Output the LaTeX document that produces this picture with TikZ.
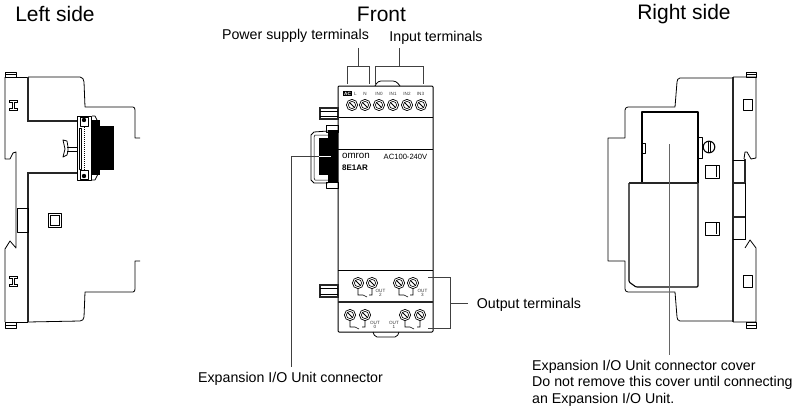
\documentclass[tikz,border=0pt]{standalone}
\usepackage{fontspec}
\setmainfont{Liberation Sans}
\tikzset{
	body/.style={line width=0.8pt, line join=round},
	heavy/.style={line width=1.3pt, black!85},
	leader/.style={line width=0.8pt, black!75},
	caption/.style={inner sep=0pt, font=\fontsize{14.2}{16.5}\selectfont},
	heading/.style={inner sep=0pt, font=\fontsize{21}{23}\selectfont},
	tiny/.style={inner sep=0pt, font=\fontsize{4.6}{5}\selectfont, black!80}
}
\newcommand{\termscrew}[2]{
	\draw[line width=0.7pt] (#1,#2) circle (5.6);
	\draw[line width=0.6pt] (#1,#2) circle (3.6);
	\draw[line width=0.9pt] (#1-2.6,#2-2.6) -- (#1+2.6,#2+2.6);
}
\newcommand{\relaymark}[3]{
	\draw[line width=0.6pt] (#1,#3+5) -- (#1,#3+11) -- (#1+5,#3+11) -- (#1+9,#3+13) (#2,#3+5) -- (#2,#3+11) -- (#2-3,#3+11);
}
\newcommand{\railmark}[2]{
	\draw[line width=0.6pt] (#1-4,#2-5) -- (#1+4,#2-5) -- (#1+4,#2-3) -- (#1+1,#2-3) -- (#1+1,#2+3) -- (#1+4,#2+3) -- (#1+4,#2+5) -- (#1-4,#2+5) -- (#1-4,#2+3) -- (#1-1,#2+3) -- (#1-1,#2-3) -- (#1-4,#2-3) -- cycle;
}
\begin{document}
\begin{tikzpicture}[x=1pt,y=-1pt]
	\useasboundingbox (0,0) rectangle (808,412);

	% left side
	\node[heading] (lefttitle) at (55,14){Left side};
	\draw[body] (28,77) -- (80,77) to[out=0,in=90] (84,82) -- (85,107) -- (133,107) to[out=0,in=90] (135,110) -- (135,138) -- (140,138);
	\draw[body] (140,261) -- (135,261) -- (135,289) to[out=-90,in=0] (133,292) -- (85,292) -- (84,317) to[out=-90,in=0] (80,321) -- (28,322);
	\draw[body] (5,77) -- (28,77);
	\draw[body] (5,72) rectangle (16,77);
	\draw[body] (5,74.5) -- (16,74.5);
	\draw[body] (5,77) -- (5,159) -- (10,159) -- (13,153) -- (16,152) -- (16,248) -- (10,241) -- (5,249) -- (5,322);
	\draw[body] (5,322) rectangle (16,328);
	\draw[body] (5,325) -- (16,325);
	\draw[body] (5,322) -- (28,322);
	\draw[heavy] (28,77) -- (28,121) -- (77,121);
	\draw[heavy] (77,173) -- (28,173) -- (28,322);
	\draw[body] (17,208) rectangle (28,232);
	\draw[body] (48,213) rectangle (61,227);
	\draw[line width=0.5pt] (50,215) rectangle (59,225);
	\railmark{13.5}{105}
	\railmark{13.5}{281}
	\draw[body, line width=1pt] (77,116) rectangle (91,180);
	\draw[densely dotted, line width=1pt] (84,127) -- (84,170);
	\draw[body] (79,128) rectangle (81,169);
	\draw[body] (80,117) rectangle (88,126);
	\draw[body] (80,170) rectangle (88,179);
	\fill (84,120) circle (2.2) (84,176) circle (2.2);
	\draw[body] (92,116) -- (95,116) -- (98,122) (92,180) -- (95,180) -- (98,174);
	\fill (92,120) rectangle (100,175);
	\fill (100,126) rectangle (114,170);
	\draw[body] (77,147) -- (67,147) (77,151) -- (67,151);
	\draw[body] (63,140) -- (67,141) -- (68,147) -- (68,151) -- (67,155) -- (63,157) -- (65,149) -- cycle;

	% front
	\node[heading] (fronttitle) at (381.5,14){Front};
	\node[caption] (powerlabel) at (295.5,36){Power supply terminals};
	\node[caption] (inputlabel) at (436,38){Input terminals};
	\coordinate (powertop) at (358,48);
	\coordinate (powerstem) at (358,66);
	\coordinate (inputtop) at (399,48);
	\coordinate (inputstem) at (399,66);
	\draw[leader] (powertop) -- (powerstem);
	\draw[leader] (347,84) -- (347,66) -- (369,66) -- (369,84);
	\draw[leader] (inputtop) -- (inputstem);
	\draw[leader] (375,84) -- (375,66) -- (423,66) -- (423,84);
	\draw[body, line width=1pt, rounded corners=1pt] (338,332) -- (338,86) -- (433,86) -- (433,332) -- cycle;
	\draw[body] (338,117) -- (433,117);
	\draw[body] (338,149) -- (433,149);
	\draw[body] (338,270) -- (433,270);
	\draw[heavy, line width=1.2pt] (338,302) -- (433,302);
	\draw[body, rounded corners=3pt] (375,86) -- (378,81) -- (396,81) -- (400,86);
	\draw[body, rounded corners=2pt] (373,332) -- (375,337) -- (397,337) -- (399,332);
	\fill (343,91) rectangle (352,96);
	\node[tiny, white] (acmark) at (347.5,93.5){\textbf{AC}};
	\node[tiny] (termL) at (355.5,93.5){L};
	\node[tiny] (termN) at (365,93.5){N};
	\node[tiny] (termA) at (379,93.5){IN0};
	\node[tiny] (termB) at (393,93.5){IN1};
	\node[tiny] (termC) at (407,93.5){IN2};
	\node[tiny] (termD) at (420.5,93.5){IN3};
	\termscrew{352}{105}
	\termscrew{365}{105}
	\termscrew{379}{105}
	\termscrew{393}{105}
	\termscrew{407}{105}
	\termscrew{421}{105}
	\node[inner sep=0pt, font=\fontsize{9.8}{10}\selectfont] (omronmark) at (356,156){omron};
	\node[inner sep=0pt, font=\fontsize{8}{9}\selectfont\bfseries] (modelmark) at (355,168){8E1AR};
	\node[inner sep=0pt, font=\fontsize{7.6}{9}\selectfont] (ratingmark) at (405.5,157){AC100-240V};
	\draw[heavy] (320,108) rectangle (338,119);
	\draw[body] (320,111) -- (338,111) (320,116) -- (338,116);
	\draw[heavy] (320,285) rectangle (338,297);
	\draw[body] (320,288) -- (338,288) (320,294) -- (338,294);
	\draw[body] (326,125) rectangle (338,132);
	\draw[body] (326,182) rectangle (338,188);
	\draw[body, line width=0.8pt] (328,131) -- (314,132) -- (311,135) -- (311,180) -- (314,183) -- (328,183);
	\draw[line width=0.5pt] (328,135) -- (315,135) -- (314,137) -- (314,178) -- (315,180) -- (328,180);
	\fill (319,138) rectangle (338,175);
	\fill (328,130) rectangle (338,182);
	\termscrew{358}{283}
	\termscrew{372}{283}
	\termscrew{399}{283}
	\termscrew{413}{283}
	\termscrew{350}{315}
	\termscrew{365}{315}
	\termscrew{405}{315}
	\termscrew{420}{315}
	\relaymark{358}{372}{284}
	\relaymark{399}{413}{284}
	\relaymark{350}{365}{316}
	\relaymark{405}{420}{316}
	\node[tiny, align=center] (outtwo) at (380.5,293){OUT\\[-1pt]2};
	\node[tiny, align=center] (outthree) at (422.5,293){OUT\\[-1pt]3};
	\node[tiny, align=center] (outzero) at (375,325){OUT\\[-1pt]0};
	\node[tiny, align=center] (outone) at (394,325){OUT\\[-1pt]1};
	\node[caption] (outlabel) at (529,305){Output terminals};
	\coordinate (outstem) at (450,303);
	\coordinate (outend) at (468,303);
	\draw[leader] (428,277) -- (450,277) -- (450,328) -- (428,328);
	\draw[leader] (outstem) -- (outend);
	\node[caption] (connlabel) at (290.5,379){Expansion I/O Unit connector};
	\coordinate (connend) at (331,156);
	\coordinate (conntail) at (291,367);
	\draw[leader] (connend) -- (291,156) -- (conntail);
	\draw[white, line width=0.8pt] (319,156) -- (connend);

	% right side
	\node[heading] (righttitle) at (684,14){Right side};
	\draw[body] (733,78) -- (680,78) to[out=180,in=90] (677,82) -- (675,107) -- (628,107) to[out=180,in=90] (625,110) -- (625,138) -- (608,138) -- (608,261) -- (625,261) -- (625,289) to[out=-90,in=180] (628,292) -- (675,292) -- (677,317) to[out=-90,in=180] (680,321) -- (733,321);
	\draw[heavy, line width=1.1pt] (733,77) -- (733,322);
	\draw[body] (746,72) rectangle (756,77);
	\draw[body] (746,74.5) -- (756,74.5);
	\draw[body] (746,322) rectangle (756,328);
	\draw[body] (746,325) -- (756,325);
	\draw[body] (733,77) -- (756,77) -- (756,158) -- (751,159) -- (747,152) -- (745,152) -- (744,159);
	\draw[body] (745,159) -- (745,240);
	\draw[body] (745,248) -- (750,240) -- (756,248) -- (756,322) -- (733,322);
	\draw[heavy] (745,159) -- (745,183);
	\draw[body] (733,160) -- (745,160);
	\draw[heavy] (733,183) -- (745,183);
	\draw[heavy] (733,217) -- (745,217);
	\draw[body] (733,239) -- (745,239);
	\draw[body] (743,99) rectangle (752,110);
	\draw[body] (743,275) rectangle (752,287);
	\draw[body, line width=1.1pt] (642,183) -- (642,112) -- (698,112) -- (698,183);
	\draw[body, line width=1.1pt, rounded corners=1pt] (629,183) -- (629,282) -- (636,287) -- (698,287) -- (698,183);
	\draw[heavy] (629,183) -- (698,183);
	\draw[body] (642,143) rectangle (645,153);
	\draw[body] (698,137) rectangle (702,158);
	\draw[body, line width=1.1pt] (709,147) circle (5.8);
	\draw[body] (708,141) -- (708,153) (710,141) -- (710,153);
	\draw[body] (705,165) rectangle (719,178);
	\draw[body] (705,222) rectangle (719,235);
	\draw[line width=0.5pt] (716,166) -- (716,177) (716,223) -- (716,234);
	\node[caption, anchor=west, align=left] (coverlabel) at (532,383){Expansion I/O Unit connector cover\\Do not remove this cover until connecting\\an Expansion I/O Unit.};
	\coordinate (coverend) at (669,144);
	\coordinate (covertail) at (669,355);
	\draw[leader, black!60, line width=1pt] (coverend) -- (covertail);
\end{tikzpicture}
\end{document}
